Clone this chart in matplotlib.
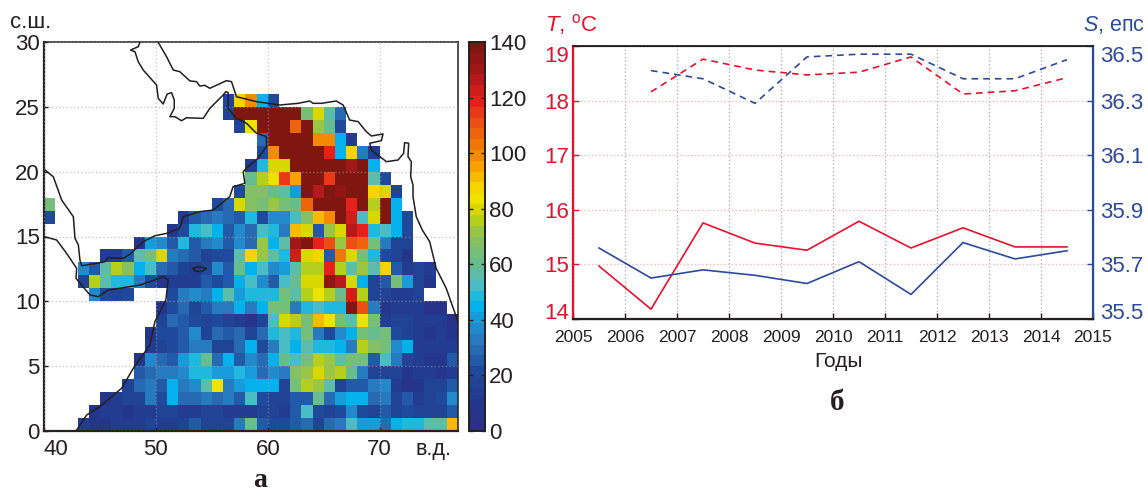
#!/usr/bin/env python3
"""Two panel figure: count map over the Arabian Sea and T/S yearly series."""

import numpy as np
import matplotlib
matplotlib.use("Agg")
import matplotlib.pyplot as plt
from matplotlib.colors import LinearSegmentedColormap

plt.rcParams['font.family'] = ['Liberation Sans', 'DejaVu Sans']
plt.rcParams['mathtext.fontset'] = 'custom'
plt.rcParams['mathtext.it'] = 'Liberation Sans:italic'
plt.rcParams['mathtext.rm'] = 'Liberation Sans'

W, H = 1148, 493
nan = np.nan

# map cells, one list per 1 degree latitude band: (first lon, values)
row25 = (56, [18, 88, 100, 43, 20])
row24 = (56, [18, 140, 140, 140, 140, 140, 140, 66, 78, 58, 28])
row23 = (57, [18, 85, 140, 140, 140, 105, 140, 72, 62, 22])
row22 = (59, [28, 140, 140, 140, 140, 100, 100, 44, 12])
row21 = (59, [22, 100, 140, 140, 140, 140, 118, 44, 88, 33, 14])
row20 = (58, [12, 50, 78, 80, 140, 140, 140, 140, 140, 132, 138, 44])
row19 = (58, [60, 77, 82, 115, 95, 140, 140, 115, 140, 140, 140, 55, 20])
row18 = (57, [20, 68, 68, 62, 57, 42, 140, 125, 140, 133, 140, 140, 88, 80, 18])
row17 = (55, [20, 28, 78, 68, 64, 72, 65, 62, 105, 140, 140, 140, 118, 140, 76, 140, 46])
row16 = (52, [12, 24, 30, 33, 28, 27, 47, 22, 36, 37, 53, 68, 93, 100, 140, 122, 54, 80, 140, 44, 22])
row15 = (51, [10, 22, 48, 52, 45, 27, 35, 28, 53, 50, 33, 90, 78, 24, 70, 78, 128, 120, 48, 52, 43, 20])
row14 = (48, [10, 42, 37, 26, 48, 24, 33, 35, 26, 36, 31, 72, 44, 56, 132, 138, 120, 112, 70, 112, 106, 66, 34, 18, 18])
row13 = (45, [12, 14, 24, 56, 64, 80, 33, 30, 25, 18, 20, 22, 56, 87, 72, 58, 50, 122, 80, 87, 26, 102, 78, 64, 50, 20, 18, 10])
row12 = (43, [38, 25, 57, 74, 68, 46, 53, 30, 26, 16, 14, 20, 38, 27, 60, 43, 52, 36, 42, 58, 76, 76, 118, 76, 55, 72, 56, 88, 26, 14, 18, 12])
row11 = (43, [16, 74, 56, 48, 50, 33, 20, 10, 14, 12, 13, 26, 22, 26, 45, 54, 36, 26, 52, 62, 80, 78, 136, 125, 80, 46, 18, 26, 64, 40, 16, 10])
row10 = (44, [35, 20, 18, 22, nan, nan, nan, 20, 34, 37, 32, 43, 55, 40, 48, 48, 48, 65, 58, 76, 84, 76, 62, 122, 76, 17, 16, 15, 14, 18])
row09 = (50, [10, 22, 28, 19, 24, 33, 33, 44, 33, 46, 63, 66, 34, 48, 52, 48, 50, 140, 112, 32, 10, 12, 12, 12, 6, 6])
row08 = (50, [18, 30, 26, 20, 18, 20, 17, 14, 8, 18, 52, 78, 76, 65, 93, 85, 66, 56, 84, 66, 14, 16, 16, 15, 14, 13, 6])
row07 = (49, [10, 20, 22, 26, 36, 18, 28, 26, 28, 18, 30, 50, 52, 50, 64, 34, 20, 36, 44, 66, 62, 64, 20, 18, 13, 10, 12, 10])
row06 = (49, [12, 18, 20, 27, 34, 34, 16, 18, 30, 44, 22, 33, 54, 44, 58, 48, 50, 44, 33, 74, 68, 66, 38, 44, 12, 14, 14, 14])
row05 = (48, [8, 36, 30, 26, 42, 50, 60, 28, 43, 24, 38, 30, 44, 62, 52, 65, 76, 70, 55, 64, 66, 24, 54, 32, 18, 12, 10, 8, 24])
row04 = (48, [26, 30, 33, 33, 37, 50, 50, 42, 42, 50, 42, 28, 38, 32, 68, 70, 80, 72, 76, 62, 32, 18, 16, 16, 10, 12, 13, 8, 14])
row03 = (47, [16, 28, 34, 24, 44, 34, 38, 58, 82, 32, 40, 43, 43, 43, 18, 64, 76, 70, 56, 18, 26, 24, 32, 36, 14, 7, 8, 16, 18, 26])
row02 = (45, [8, 15, 17, 19, 34, 22, 44, 30, 28, 33, 30, 34, 26, 52, 20, 18, 17, 24, 24, 60, 30, 42, 46, 46, 30, 34, 18, 24, 15, 18, 20, 37])
row01 = (44, [8, 13, 15, 10, 14, 15, 16, 18, 15, 14, 16, 18, 15, 15, 15, 18, 17, 14, 24, 52, 22, 18, 22, 36, 22, 17, 24, 16, 22, 18, 17, 16, 26])
row00 = (43, [14, 8, 10, 13, 14, 14, 16, 15, 15, 17, 26, 16, 18, 18, 32, 62, 26, 20, 20, 26, 30, 16, 30, 34, 52, 40, 40, 30, 44, 50, 48, 56, 56, 92])
rows = [row00, row01, row02, row03, row04, row05, row06, row07, row08, row09, row10, row11, row12,
        row13, row14, row15, row16, row17, row18, row19, row20, row21, row22, row23, row24, row25]
# two lone cells at the left edge, (lat, value)
edge_cells = [(17, 66), (16, 20)]

# coastlines, lon / lat
iran_india_lon = [50.21, 50.95, 51.55, 52.14, 53.04, 53.63, 53.93, 54.38, 54.82, 56.31, 56.76, 57.2, 59.0, 61.07,
                  62.71, 63.75, 64.05, 64.79, 66.13, 66.73, 67.32, 68.07, 68.81, 69.26, 70.3, 70.15, 69.11, 69.26,
                  70.6, 71.64, 72.14, 72.23, 72.59, 72.53, 72.83, 72.77, 72.98, 72.98, 73.27, 73.81, 74.47, 75.05,
                  75.95, 77.0]
iran_india_lat = [29.97, 28.87, 27.84, 27.71, 27.0, 26.94, 26.6, 26.66, 26.43, 27.02, 26.94, 25.78, 25.4, 25.14,
                  25.27, 25.45, 25.27, 25.27, 25.45, 25.14, 23.98, 23.86, 23.08, 22.75, 22.91, 22.39, 22.19, 21.67,
                  20.77, 20.9, 21.41, 22.24, 22.19, 21.16, 20.77, 19.61, 18.97, 18.07, 16.53, 15.5, 14.6, 12.54,
                  11.0, 8.43]
arabia_lon = [48.57, 48.42, 47.74, 48.13, 48.42, 48.87, 50.06, 50.21, 50.65, 51.01, 51.4, 51.64, 51.64, 51.25,
              51.7, 52.29, 52.74, 54.23, 54.82, 56.01, 56.25, 56.46, 56.46, 57.2, 58.1, 58.99, 59.88, 59.88,
              58.99, 58.39, 57.8, 57.95, 56.9, 56.6, 55.12, 53.93, 52.44, 52.14, 50.95, 49.91, 48.87, 47.68,
              47.08, 45.74, 45.45, 44.7, 43.36, 43.21, 43.07, 42.77, 42.68, 42.62, 41.58, 40.83, 40.09, 40.0]
arabia_lat = [29.97, 29.64, 29.38, 29.25, 28.48, 27.84, 26.68, 25.66, 25.22, 25.99, 26.09, 25.53, 24.88, 24.24,
              24.24, 23.93, 24.16, 24.11, 24.88, 25.91, 26.17, 26.09, 24.88, 24.11, 23.73, 22.96, 22.7, 21.93,
              20.9, 20.51, 20.0, 19.1, 18.84, 18.07, 17.04, 16.92, 16.53, 15.63, 15.24, 15.06, 14.6, 13.63,
              13.32, 13.37, 13.06, 12.93, 12.75, 13.19, 14.35, 14.86, 15.89, 16.53, 17.81, 19.61, 20.13, 20.08]
africa_lon = [40.0, 41.13, 42.02, 42.92, 42.86, 44.11, 44.85, 45.74, 48.57, 49.91, 50.65, 51.1, 50.89, 49.91,
              49.46, 47.98, 46.93, 45.0, 43.81, 42.92, 42.8]
africa_lat = [14.99, 14.73, 13.7, 12.54, 11.77, 10.49, 10.36, 10.87, 11.26, 11.65, 11.9, 11.65, 10.1, 8.43,
              6.63, 4.83, 3.29, 1.88, 1.23, 0.08, 0.0]
socotra_lon = [53.33, 53.78, 54.52, 54.08, 53.48, 53.33]
socotra_lat = [12.54, 12.67, 12.54, 12.29, 12.34, 12.54]

# yearly series
years = [2005.5, 2006.5, 2007.5, 2008.5, 2009.5, 2010.5, 2011.5, 2012.5, 2013.5, 2014.5]
temp_deep = [14.97, 14.18, 15.76, 15.39, 15.26, 15.79, 15.30, 15.67, 15.32, 15.32]
sal_deep = [35.76, 35.65, 35.68, 35.66, 35.63, 35.71, 35.59, 35.78, 35.72, 35.75]
years_upper = [2006.5, 2007.5, 2008.5, 2009.5, 2010.5, 2011.5, 2012.5, 2013.5, 2014.5]
temp_upper = [18.16, 18.76, 18.56, 18.47, 18.52, 18.80, 18.12, 18.18, 18.42]
sal_upper = [36.41, 36.38, 36.29, 36.46, 36.47, 36.47, 36.38, 36.38, 36.45]

map_xticks = [40, 50, 60, 70]
map_yticks = [0, 5, 10, 15, 20, 25, 30]
cbar_ticks = [0, 20, 40, 60, 80, 100, 120, 140]
year_ticks = list(range(2005, 2016))
temp_ticks = [14, 15, 16, 17, 18, 19]
sal_ticks = [35.5, 35.7, 35.9, 36.1, 36.3, 36.5]

RED = '#e8112d'
BLUE = '#2b4a9b'
INK = '#231f20'
cmap = LinearSegmentedColormap.from_list('print_jet', [
    (0 / 140, '#2b3084'), (10 / 140, '#21388e'), (20 / 140, '#1f4a9c'), (30 / 140, '#2a72b8'),
    (38 / 140, '#2090d4'), (45 / 140, '#00b7ee'), (53 / 140, '#55bdc0'), (60 / 140, '#67bd8e'),
    (70 / 140, '#8cc25a'), (76 / 140, '#b4cf1c'), (80 / 140, '#d8d800'), (85 / 140, '#f4e600'),
    (90 / 140, '#f9c600'), (100 / 140, '#f58a00'), (110 / 140, '#ec5a12'), (120 / 140, '#e7211a'),
    (130 / 140, '#a8171a'), (140 / 140, '#7f1610')], N=36)


def axes_px(fig, left, top, right, bottom):
    return fig.add_axes([left / W, 1 - bottom / H, (right - left) / W, (bottom - top) / H])


def build_grid():
    grid = np.full((30, 37), nan)
    for lat, (first, values) in enumerate(rows):
        grid[lat, first - 40:first - 40 + len(values)] = values
    for lat, value in edge_cells:
        grid[lat, 0] = value
    return grid


def plot_map(fig):
    ax = axes_px(fig, 44, 42, 458, 431)
    mesh = ax.pcolormesh(np.arange(40, 78), np.arange(0, 31), build_grid(), cmap=cmap, vmin=0, vmax=140)
    for lon, lat in [(iran_india_lon, iran_india_lat), (arabia_lon, arabia_lat),
                     (africa_lon, africa_lat), (socotra_lon, socotra_lat)]:
        ax.plot(lon, lat, color=INK, lw=1.1, zorder=3)
    ax.set_xlim(40, 77)
    ax.set_ylim(0, 30)
    ax.set_xticks(map_xticks)
    ax.set_yticks(map_yticks)
    ax.tick_params(axis='x', direction='in', length=3, labelsize=16, colors=INK, pad=6, width=1)
    ax.tick_params(axis='y', direction='in', length=3, labelsize=16, colors=INK, pad=3, width=1)
    ax.get_xticklabels()[0].set_ha('left')
    ax.grid(True, ls=':', color='#a0a0a0', lw=1, alpha=0.55, zorder=2)
    ax.set_axisbelow(False)
    for name in ('bottom', 'left'):
        ax.spines[name].set_linewidth(1.6)
    for name in ('top', 'right'):
        ax.spines[name].set_linewidth(1.1)
    for sp in ax.spines.values():
        sp.set_color(INK)

    cax = axes_px(fig, 469, 42, 485, 431)
    cb = fig.colorbar(mesh, cax=cax)
    cb.set_ticks(cbar_ticks)
    cb.ax.tick_params(direction='in', length=3, labelsize=16, colors=INK, pad=3, right=True, left=True, width=1)
    cb.outline.set_linewidth(1.4)
    cb.outline.set_edgecolor(INK)

    fig.text(10 / W, 1 - 22 / H, 'с.ш.', fontsize=16, color=INK, va='center')
    fig.text(415 / W, 1 - 449 / H, 'в.д.', fontsize=15.5, color=INK, va='center')
    fig.text(260 / W, 1 - 487 / H, 'а', fontsize=20, color=INK, ha='center', va='baseline',
             family='Liberation Serif', weight='bold')


def plot_series(fig):
    ax = axes_px(fig, 573, 46, 1093, 319)
    ax.set_facecolor('none')
    ax.plot(years, temp_deep, color=RED, lw=1.2)
    ax.plot(years_upper, temp_upper, color=RED, lw=1.2, ls=(0, (4, 3)))
    ax.set_xlim(2005, 2015)
    ax.set_ylim(14, 19)
    ax.set_xticks(year_ticks)
    ax.set_yticks(temp_ticks)
    ax.tick_params(axis='x', direction='in', length=4, labelsize=12.5, colors=INK, pad=8, width=1)
    ax.tick_params(axis='y', direction='in', length=4, labelsize=16, colors=RED, pad=3, width=1)
    ax.get_yticklabels()[0].set_va('baseline')
    ax.get_yticklabels()[-1].set_va('top')
    ax.grid(True, axis='x', ls=':', color='#b5b5b5', lw=1)
    ax.grid(True, axis='y', ls=':', color='#f5b8bd', lw=1)
    ax.set_xlabel('Годы', fontsize=15, color=INK, labelpad=5, x=0.51)

    ax2 = ax.twinx()
    ax2.plot(years, sal_deep, color=BLUE, lw=1.2)
    ax2.plot(years_upper, sal_upper, color=BLUE, lw=1.2, ls=(0, (4, 3)))
    ax2.set_ylim(35.5, 36.5)
    ax2.set_yticks(sal_ticks)
    ax2.set_yticklabels([f'{v:.1f}' for v in sal_ticks])
    ax2.tick_params(axis='y', direction='in', length=4, labelsize=16, colors=BLUE, pad=5, width=1)
    ax2.get_yticklabels()[0].set_va('baseline')
    ax2.get_yticklabels()[-1].set_va('top')

    ax2.spines['left'].set_color(RED)
    ax2.spines['left'].set_linewidth(1.6)
    ax2.spines['right'].set_color(BLUE)
    ax2.spines['right'].set_linewidth(1.6)
    ax2.spines['top'].set_color(INK)
    ax2.spines['top'].set_linewidth(1.3)
    ax2.spines['bottom'].set_color(INK)
    ax2.spines['bottom'].set_linewidth(1.6)

    fig.text(545 / W, 1 - 25 / H, r'$\mathit{T}$, $^{\mathrm{o}}$C', fontsize=16, color=RED, va='center')
    fig.text(1083 / W, 1 - 25 / H, r'$\mathit{S}$, епс', fontsize=15.5, color=BLUE, va='center')
    fig.text(837 / W, 1 - 402 / H, 'б', fontsize=21, color=INK, ha='center', va='center',
             family='Liberation Serif', weight='bold')


def main():
    fig = plt.figure(figsize=(W / 100, H / 100), dpi=100)
    plot_map(fig)
    plot_series(fig)
    fig.savefig('out.png', dpi=100)
    plt.close(fig)


if __name__ == '__main__':
    main()
